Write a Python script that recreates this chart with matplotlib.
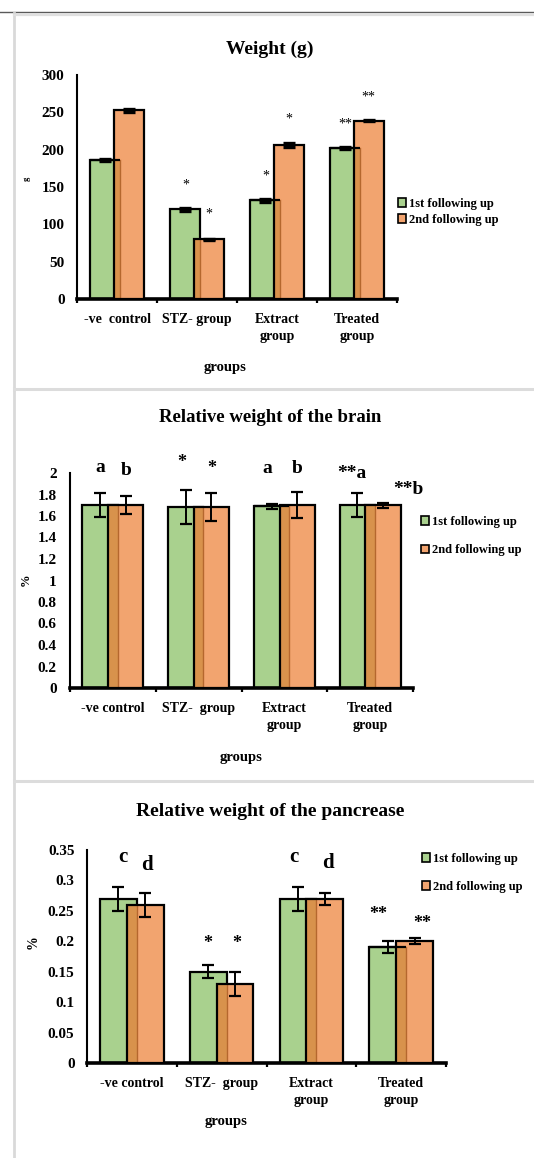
import matplotlib
matplotlib.use("Agg")
import matplotlib.pyplot as plt
from matplotlib.patches import Patch, Rectangle
from matplotlib.lines import Line2D

plt.rcParams['font.family'] = ['Liberation Serif', 'DejaVu Serif']
plt.rcParams['font.weight'] = 'bold'

W, H = 534, 1158

# data
series_names = ['1st following up', '2nd following up']

weight_groups = ['-ve  control', 'STZ- group', 'Extract\ngroup', 'Treated\ngroup']
weight_1st = [186, 120, 132, 202]
weight_1st_err = [1, 1.5, 2, 1]
weight_2nd = [253, 80, 206, 239]
weight_2nd_err = [2, 1, 2.5, 1]

organ_groups = ['-ve control', 'STZ-  group', 'Extract\ngroup', 'Treated\ngroup']
brain_1st = [1.70, 1.685, 1.69, 1.70]
brain_1st_err = [0.11, 0.155, 0.025, 0.11]
brain_2nd = [1.70, 1.685, 1.70, 1.70]
brain_2nd_err = [0.085, 0.13, 0.12, 0.025]

pancreas_1st = [0.27, 0.15, 0.27, 0.19]
pancreas_1st_err = [0.02, 0.011, 0.02, 0.01]
pancreas_2nd = [0.26, 0.13, 0.27, 0.20]
pancreas_2nd_err = [0.02, 0.02, 0.01, 0.005]

# significance marks: (group, series, text, y)
weight_marks = [(1, 0, '*', 153), (1, 1, '*', 114), (2, 0, '*', 165),
                (2, 1, '*', 241), (3, 0, '**', 234), (3, 1, '**', 270)]
brain_marks = [(0, 0, 'a', 2.05), (0, 1, 'b', 2.02), (1, 0, '*', 2.1),
               (1, 1, '*', 2.04), (2, 0, 'a', 2.04), (2, 1, 'b', 2.04),
               (3, 0, '**a', 2.0), (3, 1, '**b', 1.85)]
pancreas_marks = [(0, 0, 'c', 0.338), (0, 1, 'd', 0.325), (1, 0, '*', 0.197),
                  (1, 1, '*', 0.197), (2, 0, 'c', 0.338), (2, 1, 'd', 0.329),
                  (3, 0, '**', 0.244), (3, 1, '**', 0.23)]

GREEN = '#A9D18E'
ORANGE = '#F2A46F'
OVERLAP = '#D8924C'
SEAM = '#B5672E'


def px_rect(left, right, top, bottom):
    return [left / W, 1 - bottom / H, (right - left) / W, (bottom - top) / H]


def fig_xy(x, y):
    return x / W, 1 - y / H


fig = plt.figure(figsize=(W / 100, H / 100), dpi=100)

# page frame lines
fig.add_artist(Line2D([0, 1], [1 - 12.3 / H] * 2, color='#5a5a5a', lw=1.0))
fig.add_artist(Line2D([14 / W] * 2, [0, 1 - 13 / H], color='#d9d9d9', lw=2.0))
fig.add_artist(Line2D([14 / W, 1], [1 - 14.8 / H] * 2, color='#e0e0e0', lw=1.6))
fig.add_artist(Line2D([14 / W, 1], [1 - 388.5 / H] * 2, color='#dcdcdc', lw=2.2))
fig.add_artist(Line2D([14 / W, 1], [1 - 780.5 / H] * 2, color='#dcdcdc', lw=2.2))


def panel(rect, groups, s1, e1, s2, e2, ymax, yticks, ytlabels, width, sep,
          marks, mark_dx, capsize, capthick, ypad, star_size, letter_size):
    ax = fig.add_axes(rect)
    n = len(groups)
    xg = [i - sep / 2 for i in range(n)]
    xo = [i + sep / 2 for i in range(n)]

    ax.bar(xg, s1, width, color=GREEN, edgecolor='black', linewidth=1.6, zorder=2)
    ax.bar(xo, s2, width, color=ORANGE, edgecolor='none', zorder=3)
    for i in range(n):
        lo = xo[i] - width / 2
        hi = xg[i] + width / 2
        h = min(s1[i], s2[i])
        ax.add_patch(Rectangle((lo, 0), hi - lo, h, facecolor=OVERLAP,
                               edgecolor='none', zorder=3.5))
        ax.plot([hi, hi], [0, h], color=SEAM, lw=1.0, zorder=3.6)
        if s1[i] < s2[i]:
            ax.plot([xg[i] - width / 2, hi], [s1[i], s1[i]], color='black',
                    lw=1.6, zorder=4, solid_capstyle='butt')
    ax.bar(xo, s2, width, color='none', edgecolor='black', linewidth=1.6, zorder=4)

    ax.errorbar(xg, s1, yerr=e1, fmt='none', ecolor='black', elinewidth=1.4,
                capsize=capsize, capthick=capthick, zorder=5)
    ax.errorbar(xo, s2, yerr=e2, fmt='none', ecolor='black', elinewidth=1.4,
                capsize=capsize, capthick=capthick, zorder=5)

    for (g, s, txt, y), dx in zip(marks, mark_dx):
        x = (xg if s == 0 else xo)[g] + dx
        star_only = set(txt) == {'*'}
        ax.text(x, y, txt, ha='center', va='center',
                fontsize=star_size if star_only else letter_size,
                fontweight='bold', zorder=6, clip_on=False)

    ax.set_xlim(-0.5, n - 0.5)
    ax.set_ylim(0, ymax)
    ax.set_yticks(yticks)
    ax.set_yticklabels(ytlabels, fontsize=11, fontweight='bold')
    ax.tick_params(axis='y', length=0, pad=ypad)
    ax.set_xticks(range(n))
    ax.set_xticklabels(groups, fontsize=10, fontweight='bold', linespacing=1.45,
                       va='top')
    ax.tick_params(axis='x', which='major', length=0, pad=10)
    ax.set_xticks([i - 0.5 for i in range(n + 1)], minor=True)
    ax.tick_params(axis='x', which='minor', length=3, width=1.6, direction='out')
    for side in ('top', 'right'):
        ax.spines[side].set_visible(False)
    ax.spines['left'].set_linewidth(1.5)
    ax.spines['bottom'].set_linewidth(2.6)
    ax.patch.set_alpha(0)
    return ax


def add_legend(ax, anchor, spacing):
    ax.legend([Patch(facecolor=GREEN, edgecolor='black', lw=1.2),
               Patch(facecolor=ORANGE, edgecolor='black', lw=1.2)], series_names,
              loc='center left', bbox_to_anchor=fig_xy(*anchor),
              bbox_transform=fig.transFigure, frameon=False, fontsize=9,
              handlelength=0.6, handleheight=0.7, handletextpad=0.25,
              labelspacing=spacing, borderaxespad=0, borderpad=0)


# weight panel
ax1 = panel(px_rect(77, 397, 75, 299), weight_groups, weight_1st, weight_1st_err,
            weight_2nd, weight_2nd_err, 300, range(0, 301, 50),
            [str(v) for v in range(0, 301, 50)], 0.375, 0.29,
            weight_marks, [0] * len(weight_marks), 4, 2.4, 9, 10, 10)
for t in ax1.texts:
    t.set_fontweight('normal')
fig.text(*fig_xy(270, 49), 'Weight (g)', ha='center', va='center', fontsize=14,
         fontweight='bold')
fig.text(*fig_xy(27, 179), 'g', ha='center', va='center', fontsize=6,
         rotation=90)
fig.text(*fig_xy(225, 368), 'groups', ha='center', va='center', fontsize=10.5,
         fontweight='bold')
add_legend(ax1, (398, 212), 0.35)

# brain panel
brain_ticks = [0, 0.2, 0.4, 0.6, 0.8, 1, 1.2, 1.4, 1.6, 1.8, 2]
ax2 = panel(px_rect(70, 413, 473, 688), organ_groups, brain_1st, brain_1st_err,
            brain_2nd, brain_2nd_err, 2, brain_ticks,
            ['0', '0.2', '0.4', '0.6', '0.8', '1', '1.2', '1.4', '1.6', '1.8', '2'],
            0.41, 0.30, brain_marks, [0, 0, -0.05, 0, -0.05, 0, -0.06, 0.3],
            4, 1.6, 9.5, 13, 14)
fig.text(*fig_xy(270, 418), 'Relative weight of the brain', ha='center',
         va='center', fontsize=13.5, fontweight='bold')
fig.text(*fig_xy(26, 580), '%', ha='center', va='center', fontsize=9,
         fontweight='bold', rotation=90)
fig.text(*fig_xy(241, 757), 'groups', ha='center', va='center', fontsize=10.5,
         fontweight='bold')
add_legend(ax2, (421, 536), 1.35)

# pancreas panel
pan_ticks = [0, 0.05, 0.1, 0.15, 0.2, 0.25, 0.3, 0.35]
ax3 = panel(px_rect(87, 446, 850, 1063), organ_groups, pancreas_1st,
            pancreas_1st_err, pancreas_2nd, pancreas_2nd_err, 0.35, pan_ticks,
            ['0', '0.05', '0.1', '0.15', '0.2', '0.25', '0.3', '0.35'],
            0.41, 0.30, pancreas_marks, [0.05, 0.02, 0, 0.02, -0.04, 0.03, -0.1, 0.09],
            4, 1.6, 9, 13, 15)
fig.text(*fig_xy(270, 811), 'Relative weight of the pancrease', ha='center',
         va='center', fontsize=14, fontweight='bold')
fig.text(*fig_xy(33, 942), '%', ha='center', va='center', fontsize=10,
         fontweight='bold', rotation=90)
fig.text(*fig_xy(226, 1122), 'groups', ha='center', va='center', fontsize=10.5,
         fontweight='bold')
add_legend(ax3, (422, 873), 1.25)

fig.savefig('out.png', dpi=100)
